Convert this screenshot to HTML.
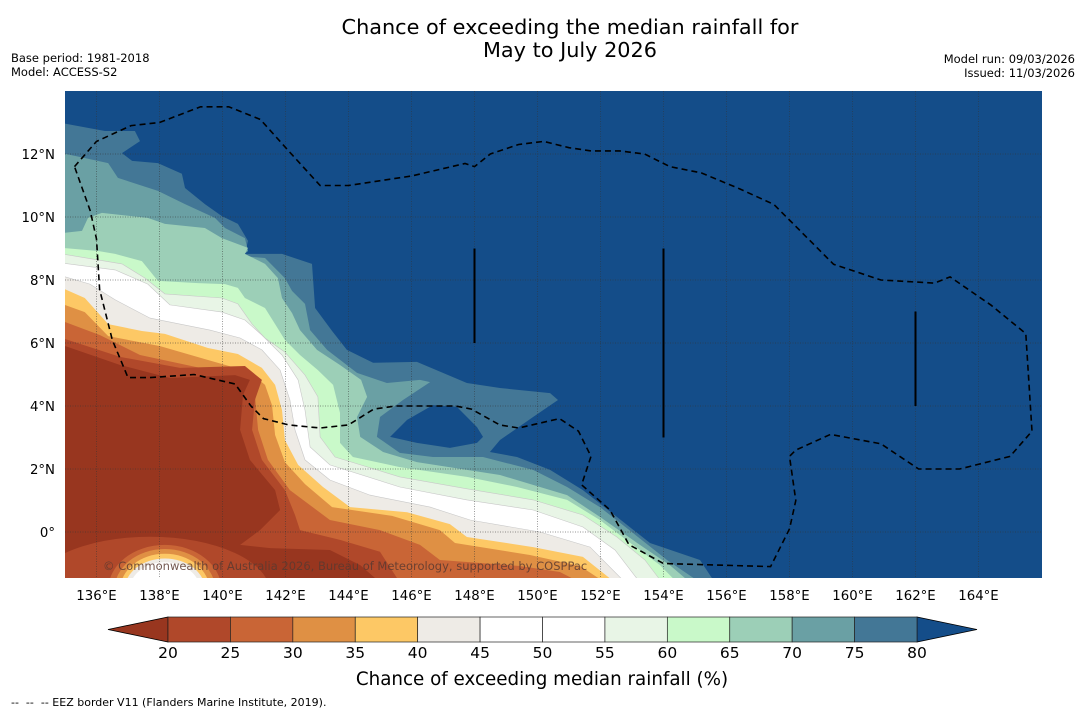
<!DOCTYPE html>
<html><head><meta charset="utf-8">
<style>
html,body{margin:0;padding:0;background:#fff;}
body{width:1085px;height:713px;overflow:hidden;position:relative;font-family:"DejaVu Sans","Liberation Sans",sans-serif;}
svg{position:absolute;left:0;top:0;font-family:"DejaVu Sans","Liberation Sans",sans-serif;}
</style></head>
<body>
<svg id="chart" width="1085" height="713" xmlns="http://www.w3.org/2000/svg">
  <text x="570" y="34" text-anchor="middle" font-size="20.8" fill="#000">Chance of exceeding the median rainfall for</text>
  <text x="570" y="57" text-anchor="middle" font-size="20.8" fill="#000">May to July 2026</text>
  <text x="11" y="62" font-size="11.5" fill="#000">Base period: 1981-2018</text>
  <text x="11" y="76" font-size="11.5" fill="#000">Model: ACCESS-S2</text>
  <text x="1075" y="63" text-anchor="end" font-size="11.5" fill="#000">Model run: 09/03/2026</text>
  <text x="1075" y="77" text-anchor="end" font-size="11.5" fill="#000">Issued: 11/03/2026</text>
  <defs><clipPath id="mapclip"><rect x="65" y="91" width="977" height="487"/></clipPath></defs>
  <g id="map" clip-path="url(#mapclip)"></g>
  <g id="axes"></g>
  <g id="cbar"></g>
  <text x="542" y="685" text-anchor="middle" font-size="18.3" fill="#000">Chance of exceeding median rainfall (%)</text>
  <text x="11" y="706" font-size="11" fill="#000" style="white-space:pre" xml:space="preserve">--  --  -- EEZ border V11 (Flanders Marine Institute, 2019).</text>
</svg>
<script>
// ---- data (lon/lat) ----
const levels = [80,75,70,65,60,55,45,40,35,30,25,20];
const levelColors = ['#437796','#6aa0a4','#9ccfb7','#c9f9c9','#e8f5e6','#ffffff','#eeebe6','#fdc865','#df9044','#c96536','#b0482a','#98361f'];
const c80 = [[134.9,12.98],[136.27,12.73],[137.22,12.73],[137.38,12.41],[136.81,12.03],[137.13,11.78],[137.95,11.71],[138.71,11.37],[138.81,10.92],[139.44,10.41],[139.98,10.03],[140.49,9.78],[140.81,9.24],[140.71,8.83],[141.89,8.83],[142.84,8.51],[142.94,7.11],[143.48,6.38],[143.95,5.78],[144.78,5.37],[146.17,5.4],[147.76,4.73],[148.81,4.57],[150.4,4.41],[150.65,4.19],[149.86,3.65],[148.81,2.92],[148.49,2.54],[149.35,2.38],[150.4,1.97],[151.44,1.33],[152.52,0.48],[153.57,-0.35],[155.16,-0.89],[155.63,-1.6]];
const c75 = [[134.9,12.03],[136.37,11.71],[136.68,11.24],[137.95,10.83],[138.81,10.41],[139.76,9.97],[140.08,9.65],[140.71,9.33],[140.81,8.92],[140.62,8.76],[141.35,8.7],[141.98,8.06],[142.21,7.65],[142.62,7.24],[142.78,6.41],[143.32,5.78],[144.27,5.05],[145.22,4.73],[146.27,4.83],[146.59,4.76],[145.73,4.19],[145.0,3.65],[144.9,3.02],[145.63,2.51],[146.68,2.38],[148.27,2.38],[149.86,1.97],[150.94,1.43],[151.98,0.79],[153.03,-0.03],[154.11,-0.89],[155.16,-1.6]];
const c70 = [[134.9,9.49],[135.54,9.56],[135.73,9.97],[136.17,10.13],[137.63,9.97],[138.17,9.78],[139.44,9.65],[139.98,9.33],[140.81,9.02],[140.71,8.83],[141.35,8.51],[141.76,8.06],[141.89,7.43],[142.21,6.95],[142.46,6.41],[143.0,5.78],[143.73,5.3],[144.4,4.83],[144.59,4.29],[144.27,3.65],[144.37,3.02],[145.1,2.54],[146.17,2.22],[148.81,1.81],[150.94,1.17],[151.98,0.48],[153.25,-0.41],[154.2,-1.05],[154.84,-1.6]];
const c65 = [[134.9,9.02],[136.05,8.92],[136.59,8.83],[137.44,8.6],[137.95,7.97],[139.22,7.9],[140.08,7.87],[140.49,7.75],[140.71,7.43],[141.35,7.11],[141.67,6.6],[141.98,6.1],[142.46,5.62],[143.03,5.14],[143.51,4.67],[143.73,3.78],[143.73,2.83],[144.14,2.38],[145.63,2.06],[147.76,1.75],[149.35,1.43],[150.94,1.02],[151.98,0.38],[153.03,-0.41],[153.89,-1.05],[154.43,-1.6]];
const c60 = [[134.9,8.83],[136.81,8.51],[137.54,8.06],[138.17,7.56],[139.98,7.43],[140.49,7.24],[140.94,6.6],[141.35,6.16],[141.98,5.71],[142.62,4.98],[143.03,4.29],[143.1,3.02],[143.57,2.38],[145.63,1.75],[147.76,1.37],[149.86,1.02],[151.44,0.54],[152.52,-0.16],[153.41,-0.89],[153.95,-1.6]];
const c55 = [[134.9,8.54],[136.59,8.32],[137.63,7.87],[138.33,7.21],[139.98,6.98],[140.71,6.73],[141.25,6.25],[141.89,5.62],[142.4,4.83],[142.62,3.87],[142.78,2.7],[143.41,2.13],[145.63,1.43],[147.76,1.02],[149.86,0.7],[151.44,0.16],[152.46,-0.57],[153.25,-1.6]];
const c45 = [[134.9,8.13],[135.79,7.87],[136.59,7.37],[137.7,6.79],[139.6,6.41],[140.56,6.16],[141.25,5.78],[141.83,5.14],[142.14,4.19],[142.3,3.24],[142.62,2.29],[143.41,1.65],[144.68,1.17],[146.59,0.79],[147.86,0.38],[150.08,0.0],[151.67,-0.48],[152.78,-1.6]];
const c40 = [[134.9,7.75],[135.63,7.43],[136.37,6.6],[137.44,6.38],[138.17,6.29],[139.54,5.84],[140.49,5.65],[141.25,5.21],[141.67,4.67],[141.89,3.87],[141.98,2.92],[142.4,2.13],[143.19,1.43],[144.05,0.79],[145.86,0.63],[147.22,0.25],[147.76,-0.16],[149.86,-0.48],[151.44,-0.79],[152.46,-1.6]];
const c35 = [[134.9,7.24],[135.63,6.98],[136.37,6.22],[138.02,5.9],[139.54,5.46],[140.87,5.08],[141.35,4.67],[141.57,4.03],[141.67,3.08],[141.98,2.22],[142.62,1.52],[143.48,0.79],[145.38,0.51],[146.9,0.06],[147.38,-0.35],[149.76,-0.73],[151.35,-1.08],[152.14,-1.6]];
const c30 = [[134.9,6.7],[136.11,6.25],[137.38,5.62],[139.29,5.21],[140.56,4.89],[141.03,4.35],[141.13,3.24],[141.44,2.29],[142.14,1.33],[143.41,0.38],[145.0,0.06],[146.27,-0.41],[146.9,-0.89],[149.44,-1.08],[150.71,-1.27],[151.35,-1.6]];
const c25 = [[134.9,6.16],[136.75,5.56],[138.65,5.21],[140.71,5.27],[141.25,4.83],[141.03,4.19],[140.94,3.24],[141.25,2.29],[141.98,1.33],[142.3,0.54],[142.46,0.06],[143.73,-0.25],[145.0,-0.63],[145.63,-1.6]];
const c20 = [[134.9,5.94],[136.75,5.3],[138.33,4.89],[140.4,4.98],[140.87,4.83],[140.65,4.35],[140.56,3.24],[140.87,2.29],[141.67,1.33],[141.83,0.7],[141.19,0.06],[140.56,-0.41],[141.51,-0.51],[143.41,-0.57],[144.37,-1.05],[145.0,-1.6]];
const contours = [c80,c75,c70,c65,c60,c55,c45,c40,c35,c30,c25,c20];
// closed high-value island near 4N 147E (>80)
const island80 = [[145.32,3.02],[145.86,3.56],[146.68,4.03],[147.44,3.97],[148.08,3.33],[148.27,3.02],[148.08,2.83],[147.22,2.67],[146.17,2.83]];
// elliptical blobs near southern edge: [lon, lat, rxDeg, ryDeg, levelIndex]
const blobs = [[137.7,-1.9,3.8,1.75,10],[138.17,-1.84,1.8,1.43,9],[138.17,-1.84,1.6,1.3,8],[138.17,-1.84,1.42,1.15,7],[138.17,-1.84,1.28,1.0,6],[138.17,-1.84,1.12,0.88,5]];
const eez = [[135.3,11.6],[136.0,12.4],[137.1,12.9],[138.0,13.0],[139.3,13.5],[140.2,13.5],[141.2,13.1],[142.1,12.1],[143.1,11.0],[144.0,11.0],[146.0,11.3],[147.7,11.7],[148.0,11.6],[148.5,12.0],[149.4,12.3],[150.2,12.4],[151.0,12.2],[151.7,12.1],[152.6,12.1],[153.4,12.0],[154.2,11.6],[155.2,11.4],[156.4,10.9],[157.5,10.4],[158.3,9.6],[159.4,8.5],[160.9,8.0],[162.6,7.9],[163.1,8.1],[164.4,7.2],[165.5,6.3],[165.7,3.2],[165.0,2.4],[163.4,2.0],[162.1,2.0],[160.9,2.8],[159.3,3.1],[158.2,2.6],[158.0,2.4],[158.2,1.0],[158.0,0.1],[157.4,-1.1],[154.0,-1.0],[152.9,-0.4],[152.3,0.7],[151.4,1.5],[151.7,2.4],[151.3,3.2],[150.7,3.6],[149.4,3.3],[148.8,3.4],[147.9,3.9],[147.4,4.0],[146.3,4.0],[145.5,4.0],[144.8,3.9],[144.0,3.4],[143.1,3.3],[142.1,3.4],[141.3,3.6],[140.9,4.0],[140.4,4.7],[139.1,5.0],[137.7,4.9],[137.0,4.9],[136.5,6.1],[136.1,7.7],[136.0,9.3],[135.8,10.2],[135.3,11.6]];
const boundarySegs = [[148,9],[148,6],[154,9],[154,3],[162,7],[162,4]];
const lonTicks = [136,138,140,142,144,146,148,150,152,154,156,158,160,162,164];
const latTicks = [0,2,4,6,8,10,12];
const cbarTicks = [20,25,30,35,40,45,50,55,60,65,70,75,80];
const cbarColors = ['#b0482a','#c96536','#df9044','#fdc865','#eeebe6','#ffffff','#ffffff','#e8f5e6','#c9f9c9','#9ccfb7','#6aa0a4','#437796'];

// ---- axes ----
const X0=65,Y0=91,W=977,H=487,LON0=135,LAT1=14,PPD=31.5;
const xs = lon => X0 + (lon-LON0)*PPD;
const ys = lat => Y0 + (LAT1-lat)*PPD;
const NS='http://www.w3.org/2000/svg';
function mk(tag, attrs, parent){const e=document.createElementNS(NS,tag);for(const k in attrs)e.setAttribute(k,attrs[k]);parent.appendChild(e);return e;}
const map=document.getElementById('map'), axes=document.getElementById('axes'), cbar=document.getElementById('cbar');
const pts = arr => arr.map(p=>xs(p[0]).toFixed(1)+','+ys(p[1]).toFixed(1)).join(' ');

let bg = mk('rect',{x:X0,y:Y0,width:W,height:H,fill:'#144d89'},map);


contours.forEach((c,i)=>{
  const poly = pts(c)+' '+xs(134.9)+','+ys(-1.6);
  const p = mk('polygon',{points:poly,fill:levelColors[i],stroke:i>=4&&i<=6?'#c8c8c8':'none','stroke-width':0.6},map);
  
  
});
let isl = mk('polygon',{points:pts(island80),fill:'#144d89'},map);


blobs.forEach(b=>{
  const e = mk('ellipse',{cx:xs(b[0]),cy:ys(b[1]),rx:b[2]*PPD,ry:b[3]*PPD,fill:levelColors[b[4]]},map);
  
  
});
// gridlines
lonTicks.forEach(l=>{
  const g = mk('line',{x1:xs(l),x2:xs(l),y1:Y0,y2:Y0+H,stroke:'#333','stroke-width':0.7,'stroke-dasharray':'1,1.5','stroke-opacity':0.7},map);
  
  
});
latTicks.forEach(l=>{
  const g = mk('line',{x1:X0,x2:X0+W,y1:ys(l),y2:ys(l),stroke:'#333','stroke-width':0.7,'stroke-dasharray':'1,1.5','stroke-opacity':0.7},map);
  
  
});
for(let i=0;i<boundarySegs.length;i+=2){
  const s = mk('line',{x1:xs(boundarySegs[i][0]),y1:ys(boundarySegs[i][1]),x2:xs(boundarySegs[i+1][0]),y2:ys(boundarySegs[i+1][1]),stroke:'#000','stroke-width':2},map);
  
  
}
let ez = mk('polyline',{points:pts(eez),fill:'none',stroke:'#000','stroke-width':1.6,'stroke-dasharray':'6,4'},map);


let cp = mk('text',{x:103,y:570,'font-size':11.5,fill:'#5a3a30','fill-opacity':0.85},map);
cp.textContent='© Commonwealth of Australia 2026, Bureau of Meteorology, supported by COSPPac';



lonTicks.forEach(l=>{
  const t = mk('text',{x:xs(l),y:600,'text-anchor':'middle','font-size':13.3,fill:'#000'},axes);
  t.textContent=l+'°E';
  
  
});
latTicks.forEach(l=>{
  const t = mk('text',{x:55,y:ys(l)+5,'text-anchor':'end','font-size':13.3,fill:'#000'},axes);
  t.textContent = l===0 ? '0°' : l+'°N';
  
  
});

// ---- colorbar ----
const CB0=168,CB1=917,CBY=617,CBH=25,segW=(CB1-CB0)/cbarColors.length;
let lt = mk('polygon',{points:`108,${CBY+CBH/2} ${CB0},${CBY} ${CB0},${CBY+CBH}`,fill:'#98361f',stroke:'#000','stroke-width':0.8},cbar);


let rt = mk('polygon',{points:`977,${CBY+CBH/2} ${CB1},${CBY} ${CB1},${CBY+CBH}`,fill:'#144d89',stroke:'#000','stroke-width':0.8},cbar);


cbarColors.forEach((c,i)=>{
  const r = mk('rect',{x:CB0+i*segW,y:CBY,width:segW,height:CBH,fill:c,stroke:'#222','stroke-width':0.7},cbar);
  
  
});
cbarTicks.forEach((v,i)=>{
  const t = mk('text',{x:CB0+i*segW,y:658,'text-anchor':'middle','font-size':15.5,fill:'#000'},cbar);
  t.textContent=v;
  
  
});
</script>
</body></html>
